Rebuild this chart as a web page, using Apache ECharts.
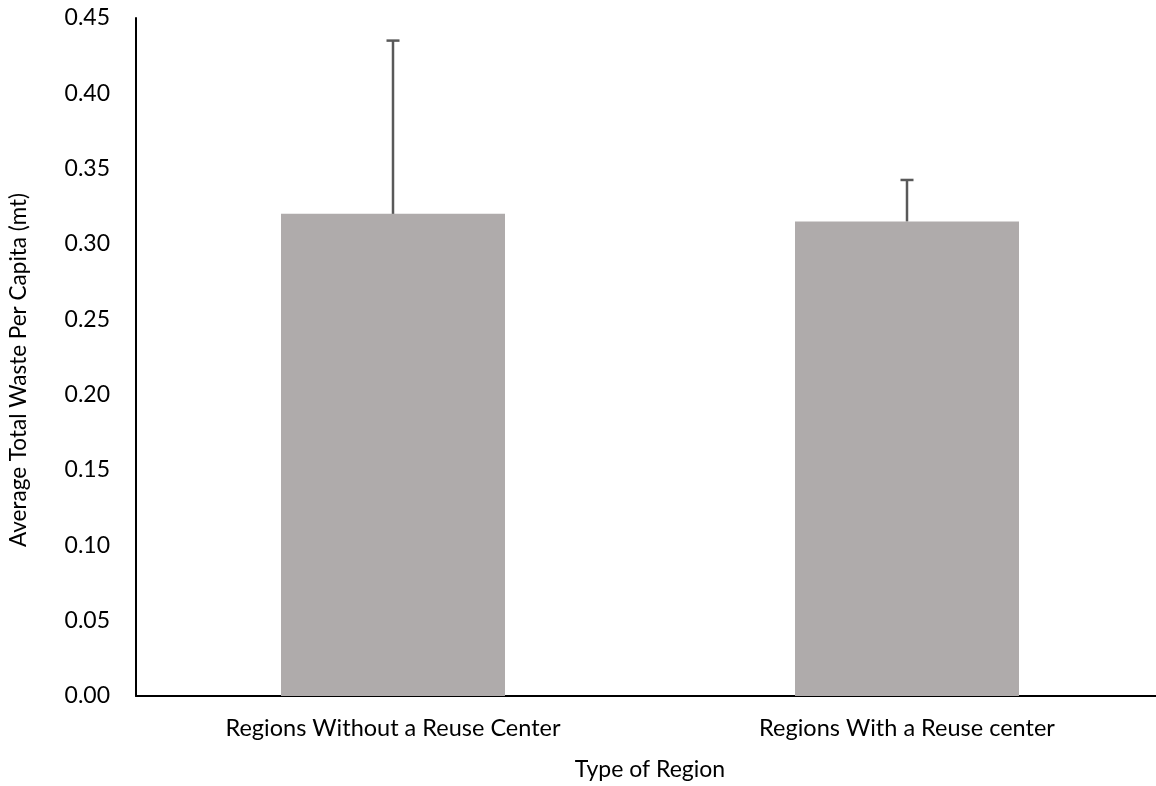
<!DOCTYPE html>
<html><head><meta charset="utf-8">
<script src="https://cdn.jsdelivr.net/npm/echarts@6/dist/echarts.min.js"></script>
<style>html,body{margin:0;padding:0;background:#fff;overflow:hidden}#c{width:1170px;height:786px}</style>
</head><body><div id="c"></div>
<script>
const categories = ["Regions Without a Reuse Center", "Regions With a Reuse center"];
const averages = [0.320, 0.315];
const errorPlus = [0.115, 0.0275];
const yTicks = { min: 0, max: 0.45, step: 0.05 };
const yTitle = "Average Total Waste Per Capita (mt)";
const xTitle = "Type of Region";

const FONT = "Lato";
const chart = echarts.init(document.getElementById('c'));
chart.setOption({
  backgroundColor: '#fff',
  animation: false,
  grid: { left: 136, top: 18, bottom: 89, width: 1028 },
  xAxis: {
    type: 'category', data: categories,
    axisLine: { lineStyle: { color: '#000', width: 2 } },
    axisTick: { show: false },
    axisLabel: { color: '#000', fontFamily: FONT, fontSize: 23.5, margin: 20 },
    name: xTitle, nameLocation: 'middle', nameGap: 62,
    nameTextStyle: { color: '#000', fontFamily: FONT, fontSize: 23 }
  },
  yAxis: {
    type: 'value', min: yTicks.min, max: yTicks.max, interval: yTicks.step,
    axisLine: { show: true, lineStyle: { color: '#000', width: 2 } },
    axisTick: { show: false },
    splitLine: { show: false },
    axisLabel: { color: '#000', fontFamily: FONT, fontSize: 23, margin: 26,
      formatter: v => v.toFixed(2) }
  },
  graphic: [{
    type: 'text', rotation: Math.PI / 2,
    style: { text: yTitle, fill: '#000', font: '22.5px ' + FONT, align: 'center', verticalAlign: 'middle' },
    x: 19, y: 370
  }],
  series: [{
    type: 'bar', data: averages, barWidth: 224,
    itemStyle: { color: '#AFABAB' }
  }, {
    type: 'custom',
    data: averages.map((v, i) => [i, v, v + errorPlus[i]]),
    renderItem: function (params, api) {
      const base = api.coord([api.value(0), api.value(1)]);
      const top = api.coord([api.value(0), api.value(2)]);
      const half = 6.5;
      const st = { stroke: '#595959', lineWidth: 2.5 };
      return { type: 'group', children: [
        { type: 'line', shape: { x1: base[0], y1: base[1], x2: top[0], y2: top[1] }, style: st },
        { type: 'line', shape: { x1: top[0] - half, y1: top[1], x2: top[0] + half, y2: top[1] }, style: st }
      ]};
    },
    z: 5
  }]
});
</script></body></html>
